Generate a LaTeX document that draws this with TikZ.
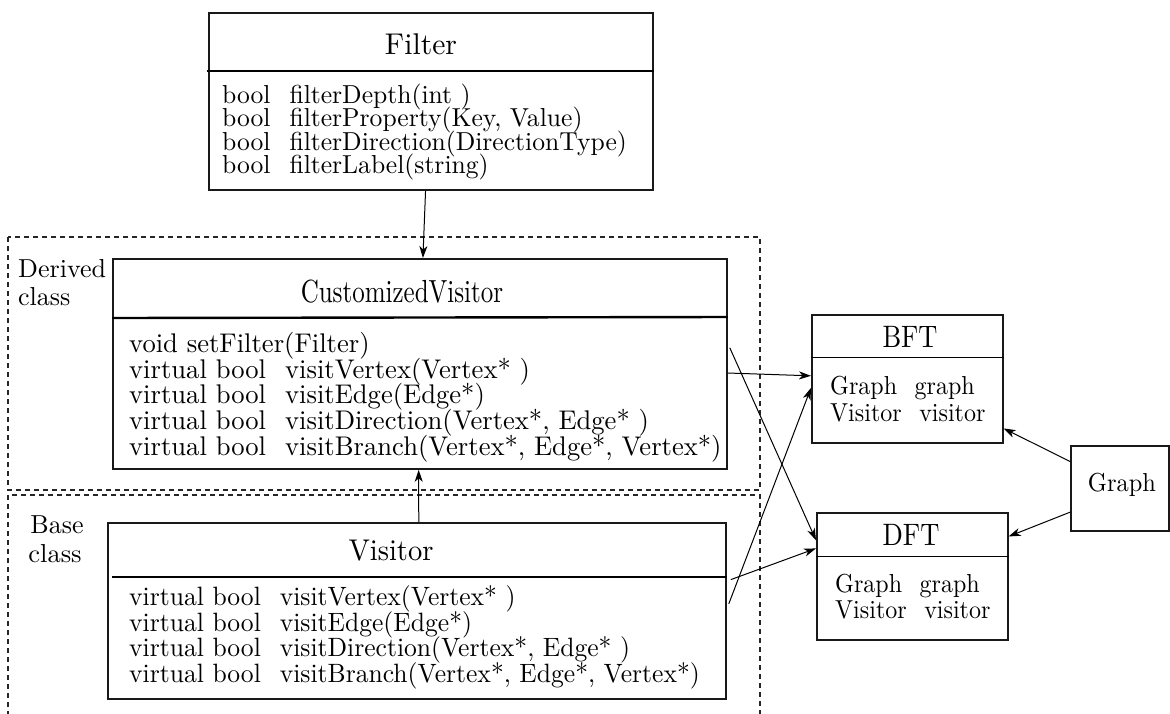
\documentclass[tikz,border=0pt]{standalone}
\usetikzlibrary{arrows.meta,calc}
% text scaled from the 10pt Latin Modern design: \sbx{x-factor}{y-factor}{text}
\newcommand\sbx[3]{\scalebox{#1}[#2]{#3}}
% gap between return type and member name (given at the 10pt design size)
\newcommand\gap[1]{\hspace{#1pt}}
\begin{document}
\begin{tikzpicture}[x=1pt,y=-1pt,
  box/.style={draw=black!90, line width=1.8pt, inner sep=0pt, anchor=north west},
  thinbox/.style={draw=black!90, line width=1.6pt, inner sep=0pt, anchor=north west},
  sepline/.style={draw=black, line width=1.4pt},
  thicksep/.style={draw=black, line width=2.4pt},
  finesep/.style={draw=black, line width=1pt},
  region/.style={draw=black!85, line width=1.1pt, dash pattern=on 5pt off 4pt},
  row/.style={anchor=base west, inner sep=0pt},
  ttl/.style={anchor=base, inner sep=0pt},
  conn/.style={draw=black, line width=1pt, -{Stealth[length=12pt,width=8pt,inset=3.5pt]}}]
\useasboundingbox (0,0) rectangle (1170,713);

% dashed class regions
\draw[region] (8,237) rectangle (760,490);
\draw[region] (8,716) -- (8,495) -- (760,495) -- (760,716);
\node[row] (derived1) at (18,277) {\sbx{2.6}{2.6}{Derived}};
\node[row] (derived2) at (18,305) {\sbx{2.6}{2.6}{class}};
\node[ttl] (base1) at (57,533) {\sbx{2.6}{2.6}{Base}};
\node[ttl] (base2) at (55,562) {\sbx{2.65}{2.6}{class}};

% Filter
\node[box, minimum width=444pt, minimum height=177pt] (filter) at (208,12) {};
\draw[sepline] ($(filter.north west)+(-1,59)$) -- ($(filter.north east)+(0,59)$);
\node[ttl] (filterT) at (421,54) {\sbx{2.96}{3.0}{Filter}};
\node[row] (f1) at (222,103)   {\sbx{2.56}{2.6}{bool\gap{7.4}filterDepth(int )}};
\node[row] (f2) at (222,126.5) {\sbx{2.56}{2.6}{bool\gap{7.4}filterProperty(Key, Value)}};
\node[row] (f3) at (222,150)   {\sbx{2.56}{2.6}{bool\gap{7.4}filterDirection(DirectionType)}};
\node[row] (f4) at (222,173.5) {\sbx{2.56}{2.6}{bool\gap{7.4}filterLabel(string)}};

% CustomizedVisitor
\node[box, minimum width=614pt, minimum height=210pt] (cv) at (112,258) {};
\draw[thicksep] ($(cv.north west)+(0,60)$) -- ($(cv.north east)+(0,59)$);
\node[ttl] (cvT) at (402,302) {\sbx{2.5}{3.2}{CustomizedVisitor}};
\node[row] (c1) at (129,352) {\sbx{2.66}{2.7}{void setFilter(Filter)}};
\node[row] (c2) at (129,378) {\sbx{2.66}{2.7}{virtual bool\gap{7.2}visitVertex(Vertex* )}};
\node[row] (c3) at (129,403) {\sbx{2.66}{2.7}{virtual bool\gap{7.2}visitEdge(Edge*)}};
\node[row] (c4) at (129,429) {\sbx{2.66}{2.7}{virtual bool\gap{7.2}visitDirection(Vertex*, Edge* )}};
\node[row] (c5) at (129,455) {\sbx{2.66}{2.7}{virtual bool\gap{7.2}visitBranch(Vertex*, Edge*, Vertex*)}};

% Visitor
\node[box, minimum width=618pt, minimum height=176pt] (vis) at (107,522) {};
\draw[sepline] ($(vis.north west)+(5,55)$) -- ($(vis.north east)+(0,55)$);
\node[ttl] (visT) at (391,560) {\sbx{2.85}{3.0}{Visitor}};
\node[row] (v1) at (129,605) {\sbx{2.56}{2.65}{virtual bool\gap{7.4}visitVertex(Vertex* )}};
\node[row] (v2) at (129,631) {\sbx{2.56}{2.65}{virtual bool\gap{7.4}visitEdge(Edge*)}};
\node[row] (v3) at (129,656) {\sbx{2.56}{2.65}{virtual bool\gap{7.4}visitDirection(Vertex*, Edge* )}};
\node[row] (v4) at (129,682) {\sbx{2.56}{2.65}{virtual bool\gap{7.4}visitBranch(Vertex*, Edge*, Vertex*)}};

% BFT
\node[thinbox, minimum width=191pt, minimum height=128pt] (bft) at (811,314) {};
\draw[finesep] ($(bft.north west)+(0,43)$) -- ($(bft.north east)+(0,43)$);
\node[ttl] (bftT) at (910,347) {\sbx{2.64}{3.1}{BFT}};
\node[row] (b1) at (830,394) {\sbx{2.4}{2.6}{Graph\gap{7.3}graph}};
\node[row] (b2) at (830,421) {\sbx{2.4}{2.6}{Visitor\gap{7.3}visitor}};

% DFT
\node[thinbox, minimum width=191pt, minimum height=127pt] (dft) at (816,512) {};
\draw[finesep] ($(dft.north west)+(0,44)$) -- ($(dft.north east)+(0,44)$);
\node[ttl] (dftT) at (911,545) {\sbx{2.66}{3.1}{DFT}};
\node[row] (d1) at (835,592) {\sbx{2.4}{2.6}{Graph\gap{7.3}graph}};
\node[row] (d2) at (835,618) {\sbx{2.4}{2.6}{Visitor\gap{7.3}visitor}};

% Graph
\node[thinbox, minimum width=98pt, minimum height=85pt] (graph) at (1070,445) {};
\node[ttl] (graphT) at (1122,491) {\sbx{2.44}{2.6}{Graph}};

% connectors
\draw[conn] ($(filter.south west)!0.488!(filter.south east)$) -- ($(cv.north west)!0.5049!(cv.north east)$);
\draw[conn] ($(vis.north west)!0.503!(vis.north east)$) -- ($(cv.south west)!0.498!(cv.south east)$);
\draw[conn] ($(cv.north east)!0.543!(cv.south east)$) -- ($(bft.north west)!0.477!(bft.south west)$);
\draw[conn] ($(cv.north east)!0.424!(cv.south east)+(2,0)$) -- ($(dft.north west)!0.22!(dft.south west)$);
\draw[conn] ($(vis.north east)!0.46!(vis.south east)+(2,0)$) -- ($(bft.north west)!0.57!(bft.south west)$);
\draw[conn] ($(vis.north east)!0.324!(vis.south east)+(4,0)$) -- ($(dft.north west)!0.283!(dft.south west)$);
\draw[conn] ($(graph.north west)!0.19!(graph.south west)$) -- ($(bft.north east)!0.883!(bft.south east)$);
\draw[conn] ($(graph.north west)!0.776!(graph.south west)$) -- ($(dft.north east)!0.19!(dft.south east)$);
\end{tikzpicture}
\end{document}
